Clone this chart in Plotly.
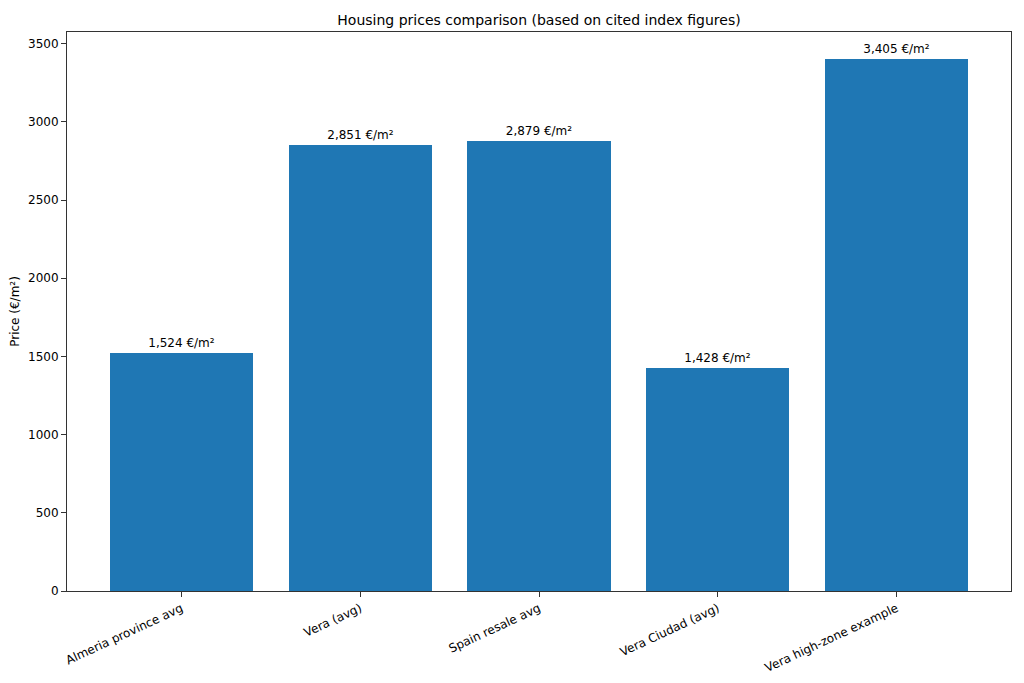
import plotly.graph_objects as go

# Données
categories = ["Almeria province avg", "Vera (avg)", "Spain resale avg", "Vera Ciudad (avg)", "Vera high-zone example"]
prix = [1524, 2851, 2879, 1428, 3405]
etiquettes = [f"{v:,} €/m²" for v in prix]

fig = go.Figure(go.Bar(
	x=list(range(len(categories))),
	y=prix,
	width=0.8,
	marker=dict(color="#1f77b4", line=dict(width=0)),
	text=etiquettes,
	textposition="outside",
	textfont=dict(size=12, color="#000000"),
	cliponaxis=False,
))

# La page HTML ajoute une marge de 8 px autour de la figure
fig.update_layout(
	width=1008,
	height=667,
	paper_bgcolor="white",
	plot_bgcolor="white",
	font=dict(family="DejaVu Sans", size=12, color="#000000"),
	margin=dict(l=59, r=5, t=24, b=84, autoexpand=False),
	title=dict(
		text="Housing prices comparison (based on cited index figures)",
		x=0.5, xref="paper", xanchor="center",
		y=1, yref="paper", yanchor="bottom", pad=dict(b=7),
		font=dict(size=14),
	),
	showlegend=False,
	bargap=0,
)

fig.update_xaxes(
	range=[-0.64, 4.64],
	tickvals=list(range(len(categories))),
	ticktext=categories,
	tickangle=-25,
	ticks="outside", ticklen=5, tickcolor="#333333",
	showline=True, linecolor="#333333", linewidth=1, mirror=True,
	showgrid=False, zeroline=False, automargin=False,
)
fig.update_yaxes(
	range=[0, 3575],
	tickvals=[0, 500, 1000, 1500, 2000, 2500, 3000, 3500],
	ticks="outside", ticklen=5, tickcolor="#333333",
	showline=True, linecolor="#333333", linewidth=1, mirror=True,
	showgrid=False, zeroline=False, automargin=False,
	title=dict(text="Price (€/m²)", standoff=9, font=dict(size=12)),
)

fig.write_html("out.html")
